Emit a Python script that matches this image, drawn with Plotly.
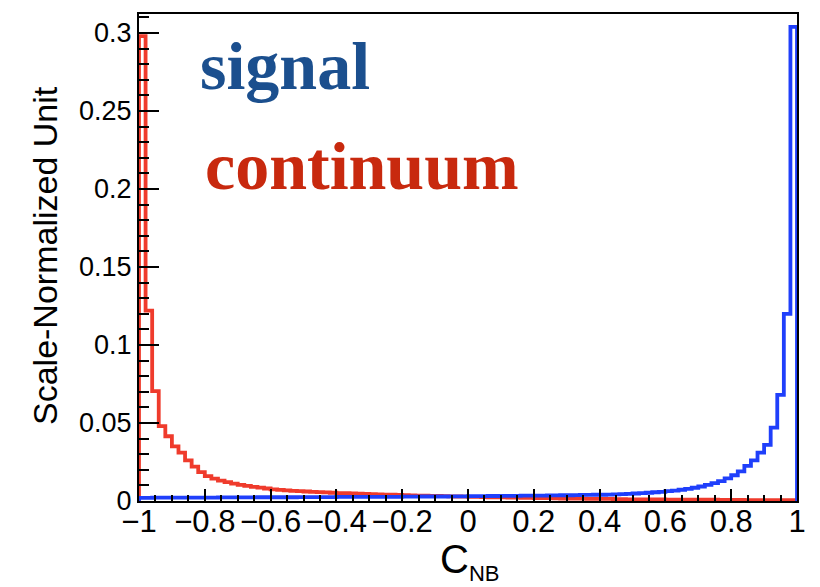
import numpy as np
import plotly.graph_objects as go

# C_NB histogram: 100 bins of width 0.02 on [-1, 1]
bin_low = np.round(np.arange(100) * 0.02 - 1.0, 2)

# continuum (red), per bin, normalised
continuum = [
    0.298, 0.122, 0.0705, 0.048, 0.0415, 0.035, 0.031, 0.026, 0.022, 0.0185,
    0.0160, 0.0143, 0.0131, 0.0121, 0.0112, 0.0104, 0.0097, 0.0091, 0.0086, 0.0080,
    0.0074, 0.0071, 0.0068, 0.0065, 0.0063, 0.0061, 0.0059, 0.0057, 0.0055, 0.0053,
    0.0051, 0.0050, 0.0048, 0.0047, 0.0045, 0.0044, 0.0043, 0.0041, 0.0040, 0.0039,
    0.0037, 0.0036, 0.0035, 0.0034, 0.0033, 0.0032, 0.0031, 0.0030, 0.0029, 0.0028,
    0.0027, 0.0026, 0.0025, 0.0024, 0.0023, 0.0023, 0.0022, 0.0021, 0.0020, 0.0020,
    0.0019, 0.0018, 0.0018, 0.0017, 0.0016, 0.0016, 0.0015, 0.0015, 0.0014, 0.0014,
    0.0013, 0.0013, 0.0012, 0.0012, 0.0011, 0.0011, 0.0011, 0.0010, 0.0010, 0.0010,
    0.0009, 0.0009, 0.0009, 0.0009, 0.0008, 0.0008, 0.0008, 0.0008, 0.0007, 0.0007,
    0.0007, 0.0007, 0.0006, 0.0006, 0.0006, 0.0006, 0.0006, 0.0005, 0.0005, 0.0005,
]

# signal (blue), per bin, normalised
signal = [
    0.0020, 0.0020, 0.0021, 0.0021, 0.0021, 0.0021, 0.0022, 0.0022, 0.0022, 0.0022,
    0.0022, 0.0022, 0.0023, 0.0023, 0.0023, 0.0023, 0.0023, 0.0023, 0.0024, 0.0024,
    0.0024, 0.0024, 0.0024, 0.0024, 0.0025, 0.0025, 0.0025, 0.0025, 0.0025, 0.0025,
    0.0026, 0.0026, 0.0026, 0.0026, 0.0026, 0.0027, 0.0027, 0.0027, 0.0027, 0.0027,
    0.0028, 0.0028, 0.0028, 0.0029, 0.0029, 0.0029, 0.0029, 0.0030, 0.0030, 0.0030,
    0.0031, 0.0031, 0.0031, 0.0032, 0.0032, 0.0033, 0.0033, 0.0033, 0.0034, 0.0034,
    0.0035, 0.0035, 0.0036, 0.0036, 0.0037, 0.0037, 0.0038, 0.0039, 0.0039, 0.0040,
    0.0040, 0.0041, 0.0043, 0.0044, 0.0046, 0.0048, 0.0050, 0.0053, 0.0056, 0.0059,
    0.0063, 0.0067, 0.0072, 0.0078, 0.0085, 0.0093, 0.0103, 0.0115, 0.0128, 0.0145,
    0.0165, 0.0190, 0.0225, 0.0260, 0.0310, 0.0360, 0.0470, 0.0680, 0.1200, 0.3040,
]

x_ticks = [-1, -0.8, -0.6, -0.4, -0.2, 0, 0.2, 0.4, 0.6, 0.8, 1]
x_tick_text = ["−1", "−0.8", "−0.6", "−0.4", "−0.2", "0", "0.2", "0.4", "0.6", "0.8", "1"]
y_ticks = [0, 0.05, 0.1, 0.15, 0.2, 0.25, 0.3]
y_tick_text = ["0", "0.05", "0.1", "0.15", "0.2", "0.25", "0.3"]

RED = "#ef3b2c"
BLUE = "#1f3ffb"
SANS = "Liberation Sans, Arial, Helvetica, sans-serif"
SERIF = "Liberation Serif, Times New Roman, serif"

# plot-area geometry in pixels (for placing free text)
W, H = 820, 587
L, R, T, B = 139, 23, 14, 86
PW, PH = W - L - R, H - T - B


def px_to_paper(px, py):
    return (px - L) / PW, (H - B - py) / PH


def step_outline(values):
    # histogram outline that starts and ends on the baseline
    xs = [-1.0] + list(bin_low) + [1.0]
    ys = [0.0] + list(values) + [0.0]
    return xs, ys


fig = go.Figure()
for vals, col, name in [(continuum, RED, "continuum"), (signal, BLUE, "signal")]:
    xs, ys = step_outline(vals)
    fig.add_trace(go.Scatter(
        x=xs, y=ys, mode="lines", name=name,
        line=dict(color=col, width=3.8, shape="hv"),
        hoverinfo="skip", showlegend=False,
    ))

fig.update_xaxes(
    range=[-1, 1], tickmode="array", tickvals=x_ticks, ticktext=x_tick_text,
    ticks="inside", ticklen=12, tickwidth=1.5, tickcolor="black",
    minor=dict(dtick=0.05, tick0=0, ticks="inside", ticklen=6, tickwidth=1.5, tickcolor="black"),
    showline=True, linecolor="black", linewidth=2, mirror=True,
    showgrid=False, zeroline=False, ticklabelstandoff=-8,
    tickfont=dict(family=SANS, size=31, color="black"),
)
fig.update_yaxes(
    range=[0, 0.3122], tickmode="array", tickvals=y_ticks, ticktext=y_tick_text,
    ticks="inside", ticklen=20, tickwidth=1.5, tickcolor="black",
    minor=dict(dtick=0.01, tick0=0, ticks="inside", ticklen=10, tickwidth=1.5, tickcolor="black"),
    showline=True, linecolor="black", linewidth=2, mirror=True,
    showgrid=False, zeroline=False,
    tickfont=dict(family=SANS, size=27, color="black"),
)

annotations = []
# axis titles
ax, ay = px_to_paper(45, 256)
annotations.append(dict(
    x=ax, y=ay, xref="paper", yref="paper", text="Scale-Normalized Unit",
    textangle=-90, showarrow=False, xanchor="center", yanchor="middle",
    font=dict(family=SANS, size=34, color="black"),
))
ax, ay = px_to_paper(469, 561)
annotations.append(dict(
    x=ax, y=ay, xref="paper", yref="paper",
    text="C<sub><span style=\"font-size:22px\">NB</span></sub>",
    showarrow=False, xanchor="center", yanchor="middle",
    font=dict(family=SANS, size=40, color="black"),
))
# sample labels
ax, ay = px_to_paper(198, 66)
annotations.append(dict(
    x=ax, y=ay, xref="paper", yref="paper", text="<b>signal</b>",
    showarrow=False, xanchor="left", yanchor="middle",
    font=dict(family=SERIF, size=68, color="#1b4f8e"),
))
ax, ay = px_to_paper(203, 166)
annotations.append(dict(
    x=ax, y=ay, xref="paper", yref="paper", text="<b>continuum</b>",
    showarrow=False, xanchor="left", yanchor="middle",
    font=dict(family=SERIF, size=68, color="#c8290e"),
))

fig.update_layout(
    width=W, height=H,
    margin=dict(l=L, r=R, t=T, b=B, pad=0),
    paper_bgcolor="white", plot_bgcolor="white",
    annotations=annotations,
)

fig.write_html("out.html")
